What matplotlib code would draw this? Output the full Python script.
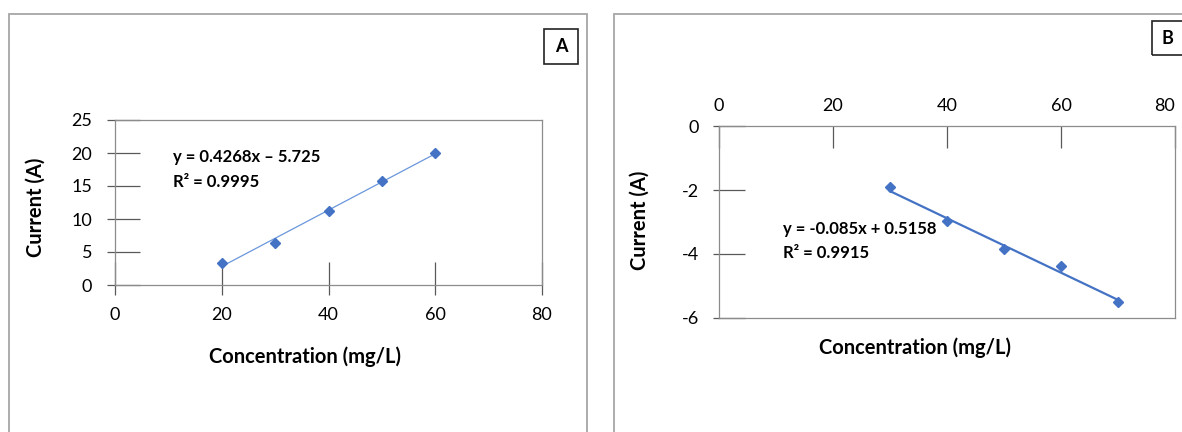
import matplotlib
matplotlib.use("Agg")
import matplotlib.pyplot as plt
from matplotlib.patches import Rectangle
import numpy as np

plt.rcParams['font.family'] = ['Lato', 'DejaVu Sans']
plt.rcParams['axes.unicode_minus'] = False

# panel A data
conc_a = [20, 30, 40, 50, 60]
current_a = [3.3, 6.4, 11.2, 15.7, 20.0]
fit_a = (0.4268, -5.725)
eq_a = ["y = 0.4268x \u2013 5.725", "R\u00b2 = 0.9995"]

# panel B data
conc_b = [30, 40, 50, 60, 70]
current_b = [-1.9, -2.96, -3.84, -4.38, -5.49]
fit_b = (-0.085, 0.5158)
eq_b = ["y = -0.085x + 0.5158", "R\u00b2 = 0.9915"]

xticks = [0, 20, 40, 60, 80]
yticks_a = [0, 5, 10, 15, 20, 25]
yticks_b = [0, -2, -4, -6]

W, H = 1182, 432
fig = plt.figure(figsize=(W / 100, H / 100), dpi=100)

def fig_rect(l, t, r, b):
    return [l / W, 1 - b / H, (r - l) / W, (b - t) / H]

# outer panel frames
for l, t, r, b in [(9, 14, 587, 440), (614, 14, 1190, 440)]:
    fig.patches.append(Rectangle((l / W, 1 - b / H), (r - l) / W, (b - t) / H,
                                 transform=fig.transFigure, fill=False,
                                 edgecolor='#a6a6a6', linewidth=1.3))
# panel letter boxes
for (l, t, r, b) in [(544, 29, 578, 64), (1152, 21, 1190, 55)]:
    fig.patches.append(Rectangle((l / W, 1 - b / H), (r - l) / W, (b - t) / H,
                                 transform=fig.transFigure, fill=False,
                                 edgecolor='#222222', linewidth=1.2))
fig.text(561 / W, 1 - 47 / H, 'A', ha='center', va='center', fontsize=13, fontweight='bold')
fig.text(1167 / W, 1 - 39 / H, 'B', ha='center', va='center', fontsize=13, fontweight='bold')

spine_c = '#8c8c8c'
tick_c = '#595959'
blue = '#4472C4'
tick_fs = 13
lab_fs = 14.5
eq_fs = 12

# ---- panel A ----
ax = fig.add_axes(fig_rect(115, 120, 542, 285))
xs = np.array([min(conc_a), max(conc_a)])
ax.plot(xs, fit_a[0] * xs + fit_a[1], color='#6a97dc', linewidth=0.9, zorder=2)
ax.plot(conc_a, current_a, 'D', color=blue, markersize=5.5, zorder=3)
ax.set_xlim(0, 80)
ax.set_ylim(0, 25)
ax.set_xticks(xticks)
ax.set_yticks(yticks_a)
ax.xaxis.remove_overlapping_locs = False
ax.yaxis.remove_overlapping_locs = False
ax.set_xticks(xticks, minor=True)
ax.set_yticks(yticks_a, minor=True)
ax.tick_params(axis='x', which='major', direction='in', length=16.5, width=0.9,
               color=tick_c, labelsize=tick_fs, pad=15.5)
ax.tick_params(axis='x', which='minor', direction='out', length=7.2, width=0.9, color=tick_c)
ax.tick_params(axis='y', which='major', direction='in', length=18, width=0.9,
               color=tick_c, labelsize=tick_fs, pad=16.5)
ax.tick_params(axis='y', which='minor', direction='out', length=5.8, width=0.9, color=tick_c)
for sp in ax.spines.values():
    sp.set_color(spine_c)
    sp.set_linewidth(0.9)
ax.set_xlabel('Concentration (mg/L)', fontsize=lab_fs, fontweight='bold')
ax.set_ylabel('Current (A)', fontsize=lab_fs, fontweight='bold')
ax.xaxis.set_label_coords(0.445, -0.37)
ax.yaxis.set_label_coords(-0.162, 0.473)
ax.text(0.136, 0.776, eq_a[0], transform=ax.transAxes, fontsize=eq_fs, fontweight='bold', va='center')
ax.text(0.136, 0.624, eq_a[1], transform=ax.transAxes, fontsize=eq_fs, fontweight='bold', va='center')

# ---- panel B ----
bx = fig.add_axes(fig_rect(719, 126, 1175, 318))
xs = np.array([min(conc_b), max(conc_b)])
bx.plot(xs, fit_b[0] * xs + fit_b[1], color=blue, linewidth=1.6, zorder=2)
bx.plot(conc_b, current_b, 'D', color=blue, markersize=5.5, zorder=3)
bx.set_xlim(0, 80)
bx.set_ylim(-6, 0)
bx.xaxis.tick_top()
bx.set_xticks(xticks)
bx.set_yticks(yticks_b)
bx.yaxis.remove_overlapping_locs = False
bx.set_yticks(yticks_b, minor=True)
bx.tick_params(axis='x', which='major', direction='in', length=16, width=0.9,
               color=tick_c, labelsize=tick_fs, pad=8.5, top=True, bottom=False)
bx.tick_params(axis='y', which='major', direction='in', length=18.7, width=0.9,
               color=tick_c, labelsize=tick_fs, pad=14.5)
bx.tick_params(axis='y', which='minor', direction='out', length=4.3, width=0.9, color=tick_c)
# last top label sits inside the frame
bx.get_xticklabels()[-1].set_horizontalalignment('right')
for sp in bx.spines.values():
    sp.set_color(spine_c)
    sp.set_linewidth(0.9)
bx.set_xlabel('Concentration (mg/L)', fontsize=lab_fs, fontweight='bold')
bx.xaxis.set_label_position('bottom')
bx.set_ylabel('Current (A)', fontsize=lab_fs, fontweight='bold')
bx.xaxis.set_label_coords(0.43, -0.1)
bx.yaxis.set_label_coords(-0.151, 0.51)
bx.text(0.14, 0.464, eq_b[0], transform=bx.transAxes, fontsize=eq_fs, fontweight='bold', va='center')
bx.text(0.14, 0.339, eq_b[1], transform=bx.transAxes, fontsize=eq_fs, fontweight='bold', va='center')

fig.savefig('out.png', dpi=100)
